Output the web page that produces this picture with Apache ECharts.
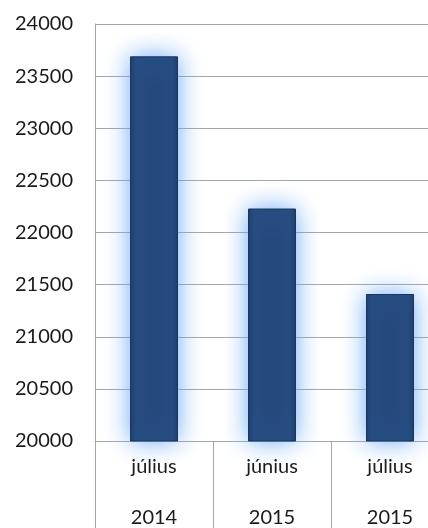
<!DOCTYPE html>
<html>
<head>
<meta charset="utf-8">
<script src="https://cdn.jsdelivr.net/npm/echarts@6/dist/echarts.min.js"></script>
<style>
  html, body {margin: 0; padding: 0; background: #fff;}
  #chart {width: 428px; height: 528px;}
</style>
</head>
<body>
<div id="chart"></div>
<script>
// data
const months = ["július", "június", "július"]
const years = ["2014", "2015", "2015"]
const values = [23690, 22230, 21410]
const yTicks = [20000, 20500, 21000, 21500, 22000, 22500, 23000, 23500, 24000]

const categories = months.map((m, i) => m + "\n" + years[i])

const chart = echarts.init(document.getElementById("chart"))

chart.setOption({
  animation: false,
  grid: {
    left: 95,
    top: 24,
    width: 354, // plot runs past the right edge, like the original
    bottom: 87,
    outerBoundsMode: "none",
  },
  xAxis: {
    type: "category",
    data: categories,
    axisLine: {lineStyle: {color: "#a6a6a6", width: 1}},
    axisTick: {
      show: true,
      length: 92,
      lineStyle: {color: "#a6a6a6", width: 1},
    },
    axisLabel: {
      color: "#1a1a1a",
      fontFamily: "Lato",
      fontSize: 20,
      lineHeight: 51,
      margin: 0,
    },
  },
  yAxis: {
    type: "value",
    min: yTicks[0],
    max: yTicks[yTicks.length - 1],
    interval: 500,
    axisLine: {show: true, lineStyle: {color: "#a6a6a6", width: 1}},
    axisTick: {show: false},
    splitLine: {lineStyle: {color: "#a6a6a6", width: 1}},
    axisLabel: {
      color: "#1a1a1a",
      fontFamily: "Lato",
      fontSize: 20,
      margin: 22,
      formatter: (v) => String(v),
    },
  },
  series: [
    {
      type: "bar",
      data: values,
      barWidth: 48,
      itemStyle: {
        color: new echarts.graphic.LinearGradient(0, 0, 1, 0, [
          {offset: 0, color: "#1a3c6a"},
          {offset: 0.12, color: "#24497c"},
          {offset: 0.88, color: "#24497c"},
          {offset: 1, color: "#1a3c6a"},
        ]),
        borderColor: "#183660",
        borderWidth: 1,
        shadowColor: "rgba(110, 170, 245, 1)",
        shadowBlur: 24,
      },
    },
  ],
})
</script>
</body>
</html>
